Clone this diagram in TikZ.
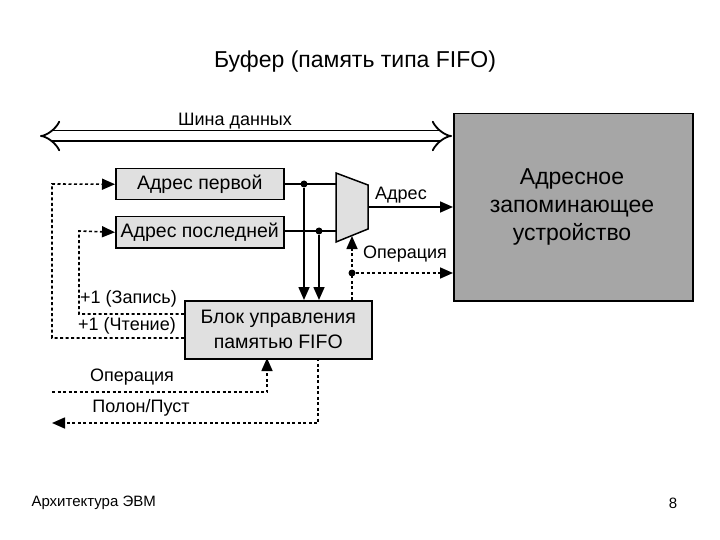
\documentclass[tikz,border=0pt]{standalone}
\usepackage{fontspec}
\setmainfont{Liberation Sans}
\usetikzlibrary{arrows.meta}
\begin{document}
\begin{tikzpicture}[x=1pt,y=-1pt,
  box/.style={draw,line width=1.5pt,fill=black!12,minimum height=31pt,inner sep=0pt,font=\fontsize{19.5}{21}\selectfont},
  lbl/.style={font=\fontsize{18}{20}\selectfont,inner sep=1pt},
  sig/.style={line width=1.6pt,-{Triangle[length=13pt,width=11pt]}},
  dsig/.style={sig,dash pattern=on 3pt off 2.5pt},
  dot/.style={circle,fill,inner sep=0pt,minimum size=7pt}]
\useasboundingbox (0,0) rectangle (720,540);
\node[font=\fontsize{23}{25}\selectfont] (title) at (355,62) {Буфер (память типа FIFO)};
\node[draw,line width=1.5pt,fill=black!35,minimum width=239pt,minimum height=187pt,anchor=north west,
  inner sep=0pt] (mem) at (453,113) {};
\node[align=center,font=\fontsize{23}{28}\selectfont] (memt) at (572,207) {Адресное\\запоминающее\\устройство};
\coordinate (busL) at (40,136);
\coordinate (busR) at (452,136);
\draw[line width=1.8pt,{Implies[length=14pt]}-{Implies[length=14pt]},double distance=9pt] (busL) -- (busR);
\node[lbl] (busl) at (235,121) {Шина данных};
\node[box,minimum width=168pt,anchor=north west] (a1) at (115,168) {Адрес первой};
\node[box,minimum width=168pt,anchor=north west] (a2) at (115,216) {Адрес последней};
\node[box,minimum width=187pt,minimum height=58pt,align=center,anchor=north west,font=\fontsize{19.5}{25}\selectfont] (blk) at (184,300) {Блок управления\\памятью FIFO};
\draw[line width=1.5pt,fill=black!12] (336,173) -- (368,185) -- (368,229) -- (336,242) -- cycle;
\coordinate (mux1) at (336,184);
\coordinate (mux2) at (336,231);
\coordinate (muxo) at (368,207);
\coordinate (muxb) at (352,236);
\node[dot] (d1) at (304,184) {};
\node[dot] (d2) at (319,231) {};
\draw[line width=1.6pt] (a1.east|-mux1) -- (mux1);
\draw[line width=1.6pt] (a2.east|-mux2) -- (mux2);
\draw[sig] (d1) -- (d1|-blk.north);
\draw[sig] (d2) -- (d2|-blk.north);
\draw[sig] (muxo) -- (mem.west|-muxo);
\node[lbl] (adr) at (401,195) {Адрес};
\node[dot] (d3) at (352,273) {};
\draw[dsig] (d3|-blk.north) -- (muxb);
\draw[dsig] (d3) -- (mem.west|-d3);
\node[lbl] (op1) at (405,254) {Операция};
\draw[dsig] (blk.west|-0,338) -- (52,338) -- (52,184) -- (a1.west);
\draw[dsig] (blk.west|-0,314) -- (79,314) -- (79,231) -- (a2.west);
\node[lbl,anchor=west] (z) at (79,299) {+1 (Запись)};
\node[lbl,anchor=west] (c) at (77,326) {+1 (Чтение)};
\coordinate (opin) at (52,392);
\draw[dsig] (opin) -- (267,392) -- (267,358);
\node[lbl] (op2) at (132,377) {Операция};
\coordinate (pout) at (52,423);
\draw[dsig] (318,358) -- (318,423) -- (pout);
\node[lbl] (pp) at (141,408) {Полон/Пуст};
\node[anchor=west,font=\fontsize{15}{17}\selectfont] (f1) at (28,503) {Архитектура ЭВМ};
\node[font=\fontsize{15}{17}\selectfont] (f2) at (673,503) {8};
\end{tikzpicture}
\end{document}
